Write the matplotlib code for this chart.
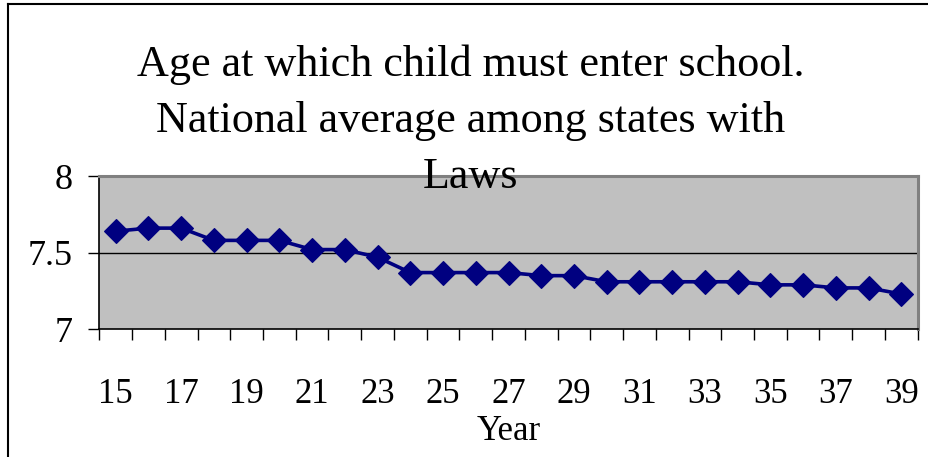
import matplotlib
matplotlib.use("Agg")
import matplotlib.pyplot as plt
from matplotlib.lines import Line2D
import numpy as np

years = list(range(15, 40))
avg_age = [7.64, 7.66, 7.66, 7.58, 7.58, 7.58, 7.52, 7.52, 7.47, 7.37,
           7.37, 7.37, 7.37, 7.35, 7.35, 7.31, 7.31, 7.31, 7.31, 7.31,
           7.29, 7.29, 7.27, 7.27, 7.23]
y_ticks = [7, 7.5, 8]
y_tick_labels = ["7", "7.5", "8"]
x_tick_labels = [str(y) for y in years[::2]]

title = "Age at which child must enter school.\nNational average among states with\nLaws"

plt.rcParams["font.family"] = ["Liberation Serif", "DejaVu Serif"]

fig = plt.figure(figsize=(9.29, 4.57), dpi=100)
fig.patch.set_facecolor("white")

# chart frame (top and left edges)
fig.add_artist(Line2D([8 / 929, 8 / 929], [0, 1 - 4 / 457], color="black", lw=1.5,
                      transform=fig.transFigure))
fig.add_artist(Line2D([8 / 929, 1], [1 - 4 / 457, 1 - 4 / 457], color="black", lw=1.5,
                      transform=fig.transFigure))

ax = fig.add_axes([99.3 / 929, 1 - 329.3 / 457, (917.7 - 99.3) / 929, (329.3 - 176) / 457])
ax.set_facecolor("#C0C0C0")

ax.plot(years, avg_age, color="#000080", lw=2.6, marker="D", markersize=12,
        markeredgewidth=0.8, markeredgecolor="#000080", markerfacecolor="#000080",
        zorder=3, clip_on=False)

ax.set_xlim(years[0] - 0.5, years[-1] + 0.5)
ax.set_ylim(7, 8)

ax.axhline(7.5, color="black", lw=1, zorder=2)

for s in ["top", "right"]:
    ax.spines[s].set_color("#808080")
    ax.spines[s].set_linewidth(2.2)
for s in ["left", "bottom"]:
    ax.spines[s].set_color("black")
    ax.spines[s].set_linewidth(1.2)

ax.set_yticks(y_ticks)
ax.set_yticklabels(y_tick_labels)
ax.tick_params(axis="y", direction="out", length=8, width=1, pad=11,
               labelsize=26, colors="black")

ax.set_xticks(years[::2])
ax.set_xticklabels(x_tick_labels)
ax.set_xticks(np.arange(years[0] - 0.5, years[-1] + 1.0, 1.0), minor=True)
ax.tick_params(axis="x", which="major", length=0, pad=35, labelsize=25)
ax.tick_params(axis="x", which="minor", direction="out", length=8, width=1)

ax.set_xlabel("Year", fontsize=25, labelpad=3)

fig.text(471 / 929, 1 - 121 / 457, title, ha="center", va="center",
         fontsize=31.8, linespacing=1.52, zorder=5)

fig.savefig("out.png", dpi=100)
